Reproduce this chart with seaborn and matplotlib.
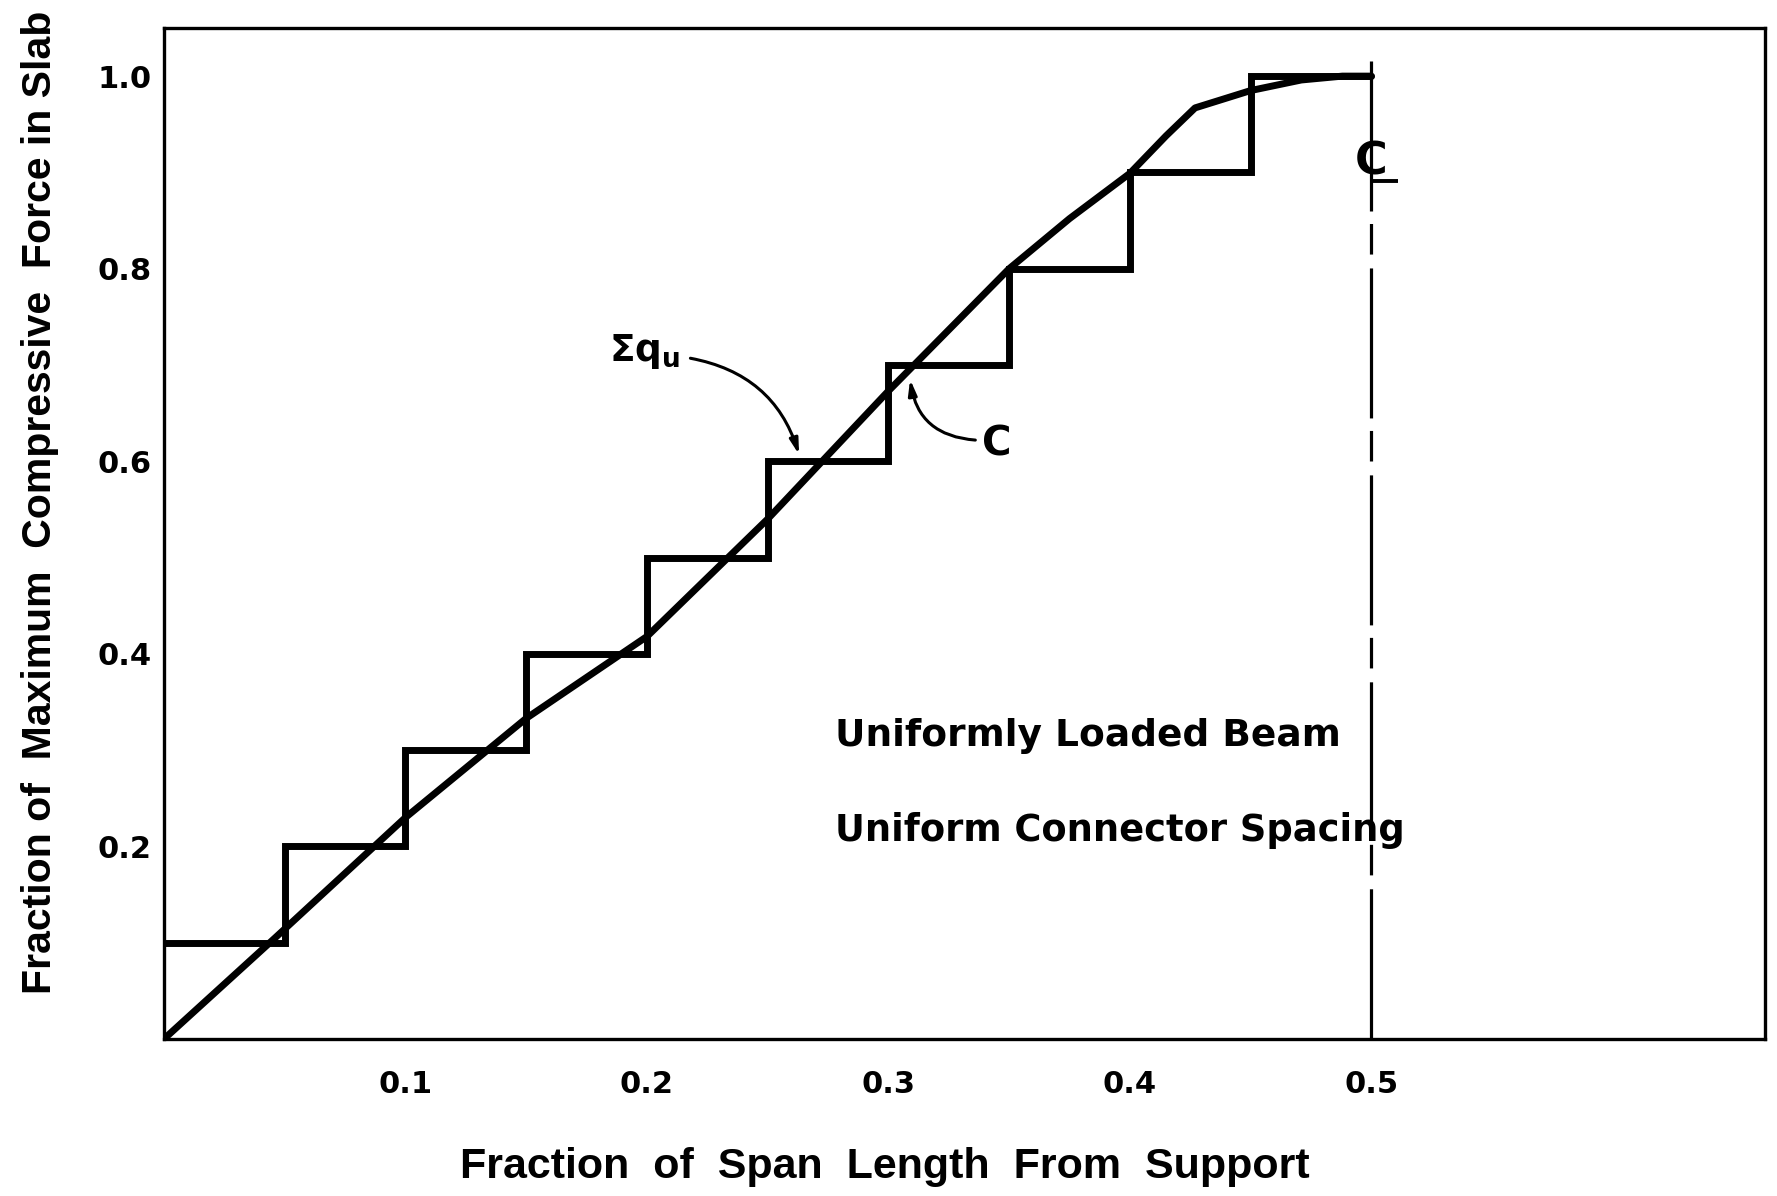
import matplotlib
matplotlib.use("Agg")
import matplotlib.pyplot as plt
import seaborn as sns
import pandas as pd

# ---- data ----
step_x = [0.0, 0.05, 0.10, 0.15, 0.20, 0.25, 0.30, 0.35, 0.40, 0.45, 0.50]
step_y = [0.1, 0.2, 0.3, 0.4, 0.5, 0.6, 0.7, 0.8, 0.9, 1.0, 1.0]

c_x = [0.0, 0.046, 0.10, 0.15, 0.20, 0.25, 0.30, 0.35, 0.375, 0.40, 0.415, 0.427, 0.45, 0.471, 0.488, 0.50]
c_y = [0.0, 0.105, 0.23, 0.333, 0.418, 0.540, 0.673, 0.80, 0.852, 0.899, 0.938, 0.967, 0.985, 0.996, 1.0, 1.0]

x_ticks = [0.1, 0.2, 0.3, 0.4, 0.5, 0.6]
x_ticklabels = ["0.1", "0.2", "0.3", "0.4", "0.5", ""]
y_ticks = [0.2, 0.4, 0.6, 0.8, 1.0]
y_ticklabels = ["0.2", "0.4", "0.6", "0.8", "1.0"]

centerline_x = [0.5, 0.5]
centerline_y = [1.016, 0.0]

df_step = pd.DataFrame({"x": step_x, "y": step_y})
df_c = pd.DataFrame({"x": c_x, "y": c_y})

sns.set_style("white")
plt.rcParams["font.family"] = ["DejaVu Sans"]
plt.rcParams["text.color"] = "black"
plt.rcParams["axes.labelcolor"] = "black"
plt.rcParams["lines.scale_dashes"] = False

fig = plt.figure(figsize=(17.77, 11.96), dpi=100)
ax = fig.add_axes([0.0923, 0.1313, 0.9009, 0.8453])

sns.lineplot(data=df_step, x="x", y="y", ax=ax, color="black", linewidth=5,
             drawstyle="steps-post", sort=False, estimator=None,
             solid_joinstyle="miter")
sns.lineplot(data=df_c, x="x", y="y", ax=ax, color="black", linewidth=5,
             sort=False, estimator=None, solid_joinstyle="round")

# centerline (long dash - short dash)
ax.plot(centerline_x, centerline_y, color="black", linewidth=2.3,
        linestyle=(0, (108, 9, 22, 10)))
ax.text(0.5, 0.911, "C", ha="center", va="center", fontsize=32,
        fontweight="bold", color="black")
ax.hlines(0.891, 0.5, 0.511, colors="black", linewidth=2.8)

ax.set_xlim(0, 0.663)
ax.set_ylim(0, 1.05)
ax.set_xticks(x_ticks)
ax.set_xticklabels(x_ticklabels)
ax.set_yticks(y_ticks)
ax.set_yticklabels(y_ticklabels)

ax.tick_params(axis="x", direction="in", length=18, width=2.2, pad=22,
               labelsize=22, colors="black")
ax.tick_params(axis="y", direction="in", length=12, width=2.2, pad=9,
               labelsize=22, colors="black")
for lab in ax.get_xticklabels() + ax.get_yticklabels():
    lab.set_fontweight("bold")

for sp in ax.spines.values():
    sp.set_visible(True)
    sp.set_color("black")
    sp.set_linewidth(2.4)

ax.set_xlabel("Fraction  of  Span  Length  From  Support", fontsize=31,
              fontweight="bold", family=["Liberation Sans", "DejaVu Sans"])
ax.set_ylabel("Fraction of  Maximum  Compressive  Force in Slab", fontsize=29.5,
              fontweight="bold", family=["Liberation Sans", "DejaVu Sans"])
ax.xaxis.set_label_coords(0.45, -0.1266)
ax.xaxis.label.set_va("center")
ax.yaxis.set_label_coords(-0.0775, 0.531)
ax.yaxis.label.set_va("center")

# annotations
ax.text(0.278, 0.315, "Uniformly Loaded Beam", fontsize=27, fontweight="bold",
        ha="left", va="center")
ax.text(0.278, 0.217, "Uniform Connector Spacing", fontsize=26.5, fontweight="bold",
        ha="left", va="center")

ax.text(0.199, 0.714, r"$\mathbf{\Sigma}$q$_{\mathregular{u}}$", fontsize=27,
        fontweight="bold", ha="center", va="center")
ax.annotate("", xy=(0.263, 0.607), xytext=(0.218, 0.707),
            arrowprops=dict(arrowstyle="-|>,head_length=0.9,head_width=0.25",
                            connectionstyle="arc3,rad=-0.3", color="black",
                            linewidth=2.2, shrinkA=0, shrinkB=0))
ax.text(0.345, 0.617, "C", fontsize=29, fontweight="bold", ha="center", va="center")
ax.annotate("", xy=(0.309, 0.685), xytext=(0.336, 0.622),
            arrowprops=dict(arrowstyle="-|>,head_length=0.9,head_width=0.25",
                            connectionstyle="arc3,rad=-0.4", color="black",
                            linewidth=2.2, shrinkA=0, shrinkB=0))

fig.savefig("out.png", dpi=100, facecolor="white")
